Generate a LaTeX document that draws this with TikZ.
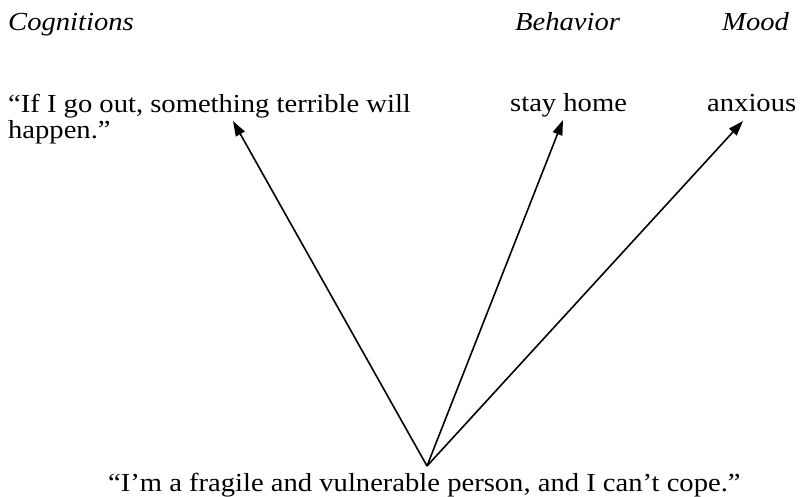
\documentclass[tikz,border=0pt]{standalone}
\usepackage{fontspec}
\setmainfont{Liberation Serif}[FakeStretch=1.1]
\usetikzlibrary{arrows.meta}
\begin{document}
\begin{tikzpicture}[x=1pt,y=-1pt,
  lbl/.style={inner sep=0pt,anchor=base west,font=\fontsize{26}{26}\selectfont},
  head/.style={inner sep=0pt,anchor=base west,font=\fontsize{26}{26}\selectfont\itshape},
  arr/.style={line width=1.6pt,-{Triangle[length=15pt,width=10pt]}}]
\useasboundingbox (0,0) rectangle (808,496);
\node[head] (hcog) at (8,30) {Cognitions};
\node[head] (hbeh) at (515,30) {Behavior};
\node[head] (hmood) at (722,30) {Mood};
\node[lbl,align=left] (cog) at (8,138) {“If I go out, something terrible will\\happen.”};
\node[lbl] (beh) at (510,111) {stay home};
\node[lbl] (mood) at (707,111) {anxious};
\node[lbl] (core) at (108,491) {“I’m a fragile and vulnerable person, and I can’t cope.”};
\coordinate (apex) at (427,466);
\coordinate (t1) at (233,121);
\coordinate (t2) at (563,120);
\coordinate (t3) at (743,121);
\draw[arr] (apex) -- (t1);
\draw[arr] (apex) -- (t2);
\draw[arr] (apex) -- (t3);
\end{tikzpicture}
\end{document}
